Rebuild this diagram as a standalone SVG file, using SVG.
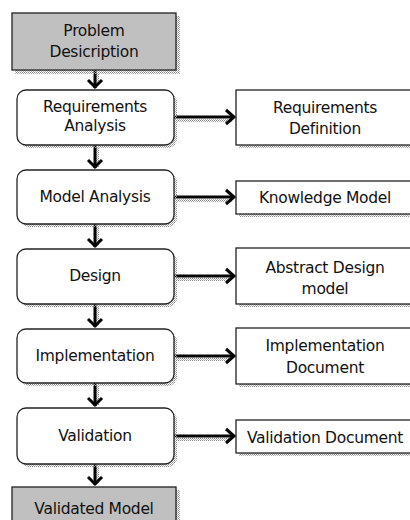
<svg xmlns="http://www.w3.org/2000/svg" width="410" height="520" viewBox="0 0 410 520">
<defs>
<pattern id="dots" width="2" height="2" patternUnits="userSpaceOnUse">
<rect x="0" y="0" width="1" height="1" fill="#8a8a8a"/>
<rect x="1" y="1" width="1" height="1" fill="#b0b0b0"/>
</pattern>
</defs>
<style>
.gray{fill:#c0c0c0;stroke:#222;stroke-width:1.3}
.proc{fill:#fff;stroke:#222;stroke-width:1.3}
.out{fill:#fff;stroke:#222;stroke-width:1.3}
.sh{fill:url(#dots)}
.t{font-family:"DejaVu Sans",Verdana,sans-serif;font-size:15.5px;fill:#111;text-anchor:middle;letter-spacing:-0.3px}
.ln{stroke:#000;stroke-width:3;fill:none}
.hd{stroke:#000;stroke-width:3;fill:none;stroke-linejoin:miter}
.lsh{fill:url(#dots)}
</style>
<rect width="410" height="520" fill="#fff"/>
<g id="connectors">
<g>
<rect class="lsh" x="96" y="72" width="3" height="14"/>
<line class="ln" x1="95" y1="70" x2="95" y2="88"/>
<polyline class="hd" points="88,80 95,87 102,80"/>
</g>
<g>
<rect class="lsh" x="96" y="147" width="3" height="20"/>
<line class="ln" x1="95" y1="145" x2="95" y2="168"/>
<polyline class="hd" points="88,160 95,167 102,160"/>
</g>
<g>
<rect class="lsh" x="96" y="226" width="3" height="20"/>
<line class="ln" x1="95" y1="224" x2="95" y2="247"/>
<polyline class="hd" points="88,239 95,246 102,239"/>
</g>
<g>
<rect class="lsh" x="96" y="306" width="3" height="20"/>
<line class="ln" x1="95" y1="304" x2="95" y2="327"/>
<polyline class="hd" points="88,319 95,326 102,319"/>
</g>
<g>
<rect class="lsh" x="96" y="385" width="3" height="20"/>
<line class="ln" x1="95" y1="383" x2="95" y2="406"/>
<polyline class="hd" points="88,398 95,405 102,398"/>
</g>
<g>
<rect class="lsh" x="96" y="466" width="3" height="18"/>
<line class="ln" x1="95" y1="464" x2="95" y2="485"/>
<polyline class="hd" points="88,477 95,484 102,477"/>
</g>
<g>
<rect class="lsh" x="176" y="119" width="56" height="3"/>
<line class="ln" x1="174" y1="117" x2="234" y2="117"/>
<polyline class="hd" points="226,110 234,117 226,124"/>
</g>
<g>
<rect class="lsh" x="176" y="199" width="56" height="3"/>
<line class="ln" x1="174" y1="197" x2="234" y2="197"/>
<polyline class="hd" points="226,190 234,197 226,204"/>
</g>
<g>
<rect class="lsh" x="176" y="278" width="56" height="3"/>
<line class="ln" x1="174" y1="276" x2="234" y2="276"/>
<polyline class="hd" points="226,269 234,276 226,283"/>
</g>
<g>
<rect class="lsh" x="176" y="358" width="56" height="3"/>
<line class="ln" x1="174" y1="356" x2="234" y2="356"/>
<polyline class="hd" points="226,349 234,356 226,363"/>
</g>
<g>
<rect class="lsh" x="176" y="438" width="56" height="3"/>
<line class="ln" x1="174" y1="436" x2="234" y2="436"/>
<polyline class="hd" points="226,429 234,436 226,443"/>
</g>
</g>
<g id="problem">
<rect class="sh" x="15" y="16" width="165" height="58"/>
<rect class="gray" x="12" y="13" width="164" height="57"/>
<text class="t" x="94" y="36">Problem</text>
<text class="t" x="94" y="57">Desicription</text>
</g>
<g id="req-analysis">
<rect class="sh" x="20" y="93" width="157" height="55" rx="9"/>
<rect class="proc" x="17" y="90" width="157" height="55" rx="9"/>
<text class="t" x="95" y="112">Requirements</text>
<text class="t" x="95" y="131">Analysis</text>
</g>
<g id="model-analysis">
<rect class="sh" x="20" y="173" width="157" height="54" rx="9"/>
<rect class="proc" x="17" y="170" width="157" height="54" rx="9"/>
<text class="t" x="95" y="202">Model Analysis</text>
</g>
<g id="design">
<rect class="sh" x="20" y="252" width="157" height="55" rx="9"/>
<rect class="proc" x="17" y="249" width="157" height="55" rx="9"/>
<text class="t" x="95" y="281">Design</text>
</g>
<g id="implementation">
<rect class="sh" x="20" y="332" width="157" height="54" rx="9"/>
<rect class="proc" x="17" y="329" width="157" height="54" rx="9"/>
<text class="t" x="95" y="361">Implementation</text>
</g>
<g id="validation">
<rect class="sh" x="20" y="411" width="157" height="56" rx="9"/>
<rect class="proc" x="17" y="408" width="157" height="56" rx="9"/>
<text class="t" x="95" y="441">Validation</text>
</g>
<g id="validated-model">
<rect class="sh" x="15" y="490" width="165" height="40"/>
<rect class="gray" x="12" y="487" width="164" height="40"/>
<text class="t" x="94" y="514">Validated Model</text>
</g>
<g id="req-definition">
<rect class="sh" x="239" y="93" width="180" height="55"/>
<rect class="out" x="236" y="90" width="180" height="55"/>
<text class="t" x="325" y="113">Requirements</text>
<text class="t" x="325" y="134">Definition</text>
</g>
<g id="knowledge-model">
<rect class="sh" x="239" y="184" width="180" height="33"/>
<rect class="out" x="236" y="181" width="180" height="33"/>
<text class="t" x="325" y="203">Knowledge Model</text>
</g>
<g id="abstract-design">
<rect class="sh" x="239" y="251" width="180" height="56"/>
<rect class="out" x="236" y="248" width="180" height="56"/>
<text class="t" x="325" y="273">Abstract Design</text>
<text class="t" x="325" y="294">model</text>
</g>
<g id="impl-document">
<rect class="sh" x="239" y="331" width="180" height="56"/>
<rect class="out" x="236" y="328" width="180" height="56"/>
<text class="t" x="325" y="351">Implementation</text>
<text class="t" x="325" y="373">Document</text>
</g>
<g id="validation-document">
<rect class="sh" x="239" y="423" width="180" height="33"/>
<rect class="out" x="236" y="420" width="180" height="33"/>
<text class="t" x="325" y="443">Validation Document</text>
</g>
</svg>
